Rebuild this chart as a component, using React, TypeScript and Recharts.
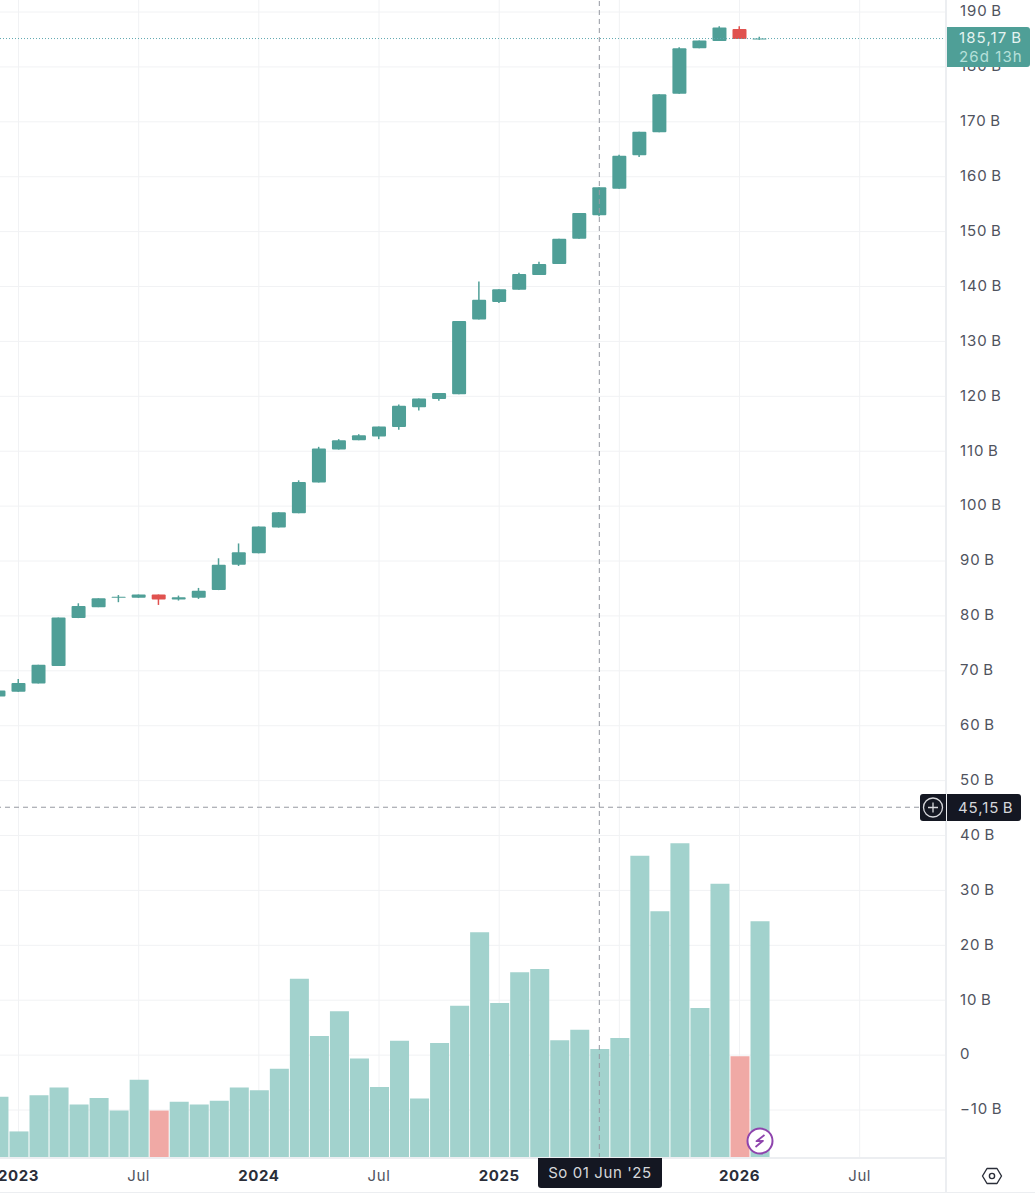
import React from "react";
import {
  ComposedChart,
  Bar,
  Cell,
  XAxis,
  YAxis,
  CartesianGrid,
  ReferenceLine,
} from "recharts";

const months = [
  "2022-12",
  "2023-01", "2023-02", "2023-03", "2023-04", "2023-05", "2023-06",
  "2023-07", "2023-08", "2023-09", "2023-10", "2023-11", "2023-12",
  "2024-01", "2024-02", "2024-03", "2024-04", "2024-05", "2024-06",
  "2024-07", "2024-08", "2024-09", "2024-10", "2024-11", "2024-12",
  "2025-01", "2025-02", "2025-03", "2025-04", "2025-05", "2025-06",
  "2025-07", "2025-08", "2025-09", "2025-10", "2025-11", "2025-12",
  "2026-01", "2026-02",
];

const opens = [
  65.3, 66.2, 67.7, 70.9, 79.6, 81.6, 83.3, 83.3, 83.9, 83.0, 83.3, 84.7, 89.3,
  91.4, 96.1, 98.7, 104.3, 110.3, 112.0, 112.7, 114.4, 118.0, 119.5, 120.4, 134.0,
  137.2, 139.4, 142.1, 144.1, 148.7, 153.0, 157.8, 163.9, 168.1, 175.1, 183.4, 184.7,
  186.9, 185.0,
];
const closes = [
  66.4, 67.8, 71.1, 79.7, 81.8, 83.2, 83.5, 83.9, 83.0, 83.4, 84.6, 89.3, 91.6,
  96.3, 98.9, 104.4, 110.5, 112.0, 112.9, 114.5, 118.3, 119.6, 120.6, 133.7, 137.6,
  139.5, 142.3, 144.1, 148.7, 153.4, 158.1, 163.8, 168.2, 175.0, 183.4, 184.8, 187.2,
  185.1, 185.17,
];
const highs = [
  66.4, 68.5, 71.1, 79.7, 82.3, 83.2, 83.8, 83.9, 83.9, 83.7, 85.1, 90.5, 93.2,
  96.3, 98.9, 104.7, 110.8, 112.2, 113.1, 114.5, 118.5, 119.6, 120.6, 133.7, 140.9,
  139.5, 142.5, 144.5, 148.7, 153.4, 158.1, 164.0, 168.2, 175.0, 183.6, 184.8, 187.4,
  187.4, 185.5,
];
const lows = [
  65.3, 66.2, 67.7, 70.9, 79.6, 81.6, 82.5, 83.3, 82.0, 82.8, 83.1, 84.7, 89.1,
  91.4, 96.1, 98.7, 104.3, 110.3, 112.0, 112.2, 113.9, 117.4, 119.2, 120.4, 134.0,
  137.0, 139.4, 142.1, 144.1, 148.7, 152.8, 157.8, 163.6, 168.1, 175.1, 183.4, 184.7,
  185.1, 184.95,
];
// bar tops in the lower pane, read on the shared price scale
const volumeTops = [
  -7.6, -13.9, -7.3, -5.9, -9.0, -7.8, -10.1, -4.5, -10.1, -8.5, -9.0, -8.3, -5.9,
  -6.4, -2.5, 13.9, 3.5, 8.0, -0.6, -5.8, 2.6, -7.9, 2.2, 9.0, 22.4,
  9.5, 15.1, 15.7, 2.7, 4.6, 1.1, 3.1, 36.3, 26.2, 38.6, 8.6, 31.2,
  -0.2, 24.4,
];

const priceTicks = [
  -10, 0, 10, 20, 30, 40, 50, 60, 70, 80, 90, 100, 110, 120, 130, 140, 150, 160, 170, 180, 190,
];
const timeTicks = [0, 6, 12, 18, 24, 30, 36, 42];
// the Jul 2025 label sits behind the crosshair date badge, so it is left blank
const timeLabels = ["2023", "Jul", "2024", "Jul", "2025", "", "2026", "Jul"];

const priceMin = -18.74;
const priceMax = 192.19;
const timeDomain: [number, number] = [-0.924, 46.31];

const lastPrice = 185.17;
const crossPrice = 45.15;
const crossMonth = 29;

const UP = "#4f9f97";
const DOWN = "#e0524f";
const UP_VOL = "#a2d2cd";
const DOWN_VOL = "#f0a9a5";
const GRID = "#f1f2f4";
const BORDER = "#eceef1";
const DARK = "#141722";
const LABEL = "#50535e";

const data = months.map((m, i) => ({
  month: m,
  t: i - 1,
  body: [Math.min(opens[i], closes[i]), Math.max(opens[i], closes[i])],
  wick: [lows[i], highs[i]],
  volume: [priceMin, volumeTops[i]],
  up: closes[i] >= opens[i],
}));

function formatPrice(v: number) {
  if (v === 0) return "0";
  return (v < 0 ? "\u2212" + -v : String(v)) + "\u2009B";
}

function TimeTick({ x, y, payload }: any) {
  const idx = timeTicks.indexOf(payload.value);
  const label = timeLabels[idx];
  if (!label) return null;
  const isYear = label !== "Jul";
  return (
    <text
      x={x}
      y={y + 15}
      textAnchor="middle"
      fontSize={15}
      fontWeight={isYear ? 700 : 400}
      letterSpacing={0.6}
      fill={isYear ? "#2a2e39" : LABEL}
    >
      {label}
    </text>
  );
}

export default function App() {
  return (
    <div
      style={{
        position: "absolute",
        left: 0,
        top: 0,
        width: 1035,
        height: 1200,
        background: "#fff",
        overflow: "hidden",
        fontFamily: "Inter, sans-serif",
      }}
    >
      <ComposedChart
        width={1035}
        height={1193}
        data={data}
        margin={{ top: 0, right: 0, bottom: 0, left: 0 }}
      >
        <CartesianGrid xAxisId="vol" stroke={GRID} strokeWidth={1} syncWithTicks />
        <XAxis
          xAxisId="vol"
          dataKey="t"
          type="number"
          domain={timeDomain}
          allowDataOverflow
          ticks={timeTicks}
          interval={0}
          height={35}
          tick={<TimeTick />}
          tickLine={false}
          axisLine={{ stroke: BORDER, strokeWidth: 2 }}
        />
        <XAxis xAxisId="wick" dataKey="t" type="number" domain={timeDomain} allowDataOverflow hide height={0} />
        <XAxis xAxisId="body" dataKey="t" type="number" domain={timeDomain} allowDataOverflow hide height={0} />
        <YAxis
          orientation="right"
          width={89}
          domain={[priceMin, priceMax]}
          allowDataOverflow
          ticks={priceTicks}
          interval={0}
          tickFormatter={formatPrice}
          tick={{ fontSize: 15, fill: LABEL, letterSpacing: 0.9, dy: -1 }}
          tickMargin={8}
          tickLine={false}
          axisLine={{ stroke: BORDER, strokeWidth: 2 }}
        />
        <Bar xAxisId="vol" dataKey="volume" barSize={19} isAnimationActive={false}>
          {data.map((d) => (
            <Cell key={d.month} fill={d.up ? UP_VOL : DOWN_VOL} />
          ))}
        </Bar>
        <Bar xAxisId="wick" dataKey="wick" barSize={1.5} isAnimationActive={false}>
          {data.map((d) => (
            <Cell key={d.month} fill={d.up ? UP : DOWN} />
          ))}
        </Bar>
        <Bar xAxisId="body" dataKey="body" barSize={14} radius={1} isAnimationActive={false}>
          {data.map((d) => (
            <Cell key={d.month} fill={d.up ? UP : DOWN} />
          ))}
        </Bar>
        <ReferenceLine xAxisId="vol" y={lastPrice} stroke="#5fa9b0" strokeDasharray="1 2" />
        <ReferenceLine xAxisId="vol" y={crossPrice} stroke="#9598a1" strokeDasharray="5 4" />
        <ReferenceLine xAxisId="vol" x={crossMonth} stroke="#9598a1" strokeDasharray="5 4" />
      </ComposedChart>

      <div style={{ position: "absolute", left: 0, top: 1192, width: 1035, height: 1, background: BORDER }} />
      <div style={{ position: "absolute", left: 945, top: 1158, width: 2, height: 35, background: BORDER }} />

      {/* last price badge */}
      <div
        style={{
          position: "absolute",
          left: 947,
          top: 27,
          width: 83,
          height: 40,
          background: UP,
          borderRadius: "0 3px 3px 0",
          fontSize: 15,
          letterSpacing: 1.1,
          lineHeight: "19px",
          paddingTop: 1,
          boxSizing: "border-box",
          textAlign: "left",
          paddingLeft: 12,
          whiteSpace: "nowrap",
        }}
      >
        <div style={{ color: "#e4f3f1" }}>185,17{"\u2009"}B</div>
        <div style={{ color: "#b5e0da" }}>26d 13h</div>
      </div>

      {/* crosshair price badge */}
      <div
        style={{
          position: "absolute",
          left: 920,
          top: 794,
          width: 26,
          height: 27,
          background: DARK,
          borderRadius: "3px 0 0 3px",
        }}
      >
        <svg width={26} height={27}>
          <circle cx={13} cy={13.5} r={9.5} fill="none" stroke="#d6d7db" strokeWidth={1.3} />
          <path d="M13 8.5v10M8 13.5h10" stroke="#d6d7db" strokeWidth={1.3} />
        </svg>
      </div>
      <div
        style={{
          position: "absolute",
          left: 947,
          top: 794,
          width: 74,
          height: 27,
          background: DARK,
          color: "#d6d7db",
          borderRadius: "0 3px 3px 0",
          fontSize: 15,
          letterSpacing: 0.9,
          lineHeight: "27px",
          paddingLeft: 11,
          boxSizing: "border-box",
          whiteSpace: "nowrap",
        }}
      >
        45,15{"\u2009"}B
      </div>

      {/* crosshair date badge */}
      <div
        style={{
          position: "absolute",
          left: 538,
          top: 1158,
          width: 124,
          height: 30,
          background: DARK,
          color: "#d6d7db",
          borderRadius: "0 0 3px 3px",
          fontSize: 15,
          letterSpacing: 0.6,
          lineHeight: "30px",
          textAlign: "center",
        }}
      >
        So 01 Jun '25
      </div>

      {/* earnings marker */}
      <svg style={{ position: "absolute", left: 745, top: 1126 }} width={30} height={30}>
        <circle cx={15} cy={15} r={12.5} fill="#fff" stroke="#8e44ad" strokeWidth={2} />
        <path d="M19.5 9 L11.5 15.2 L18 14.8 L10.5 21" fill="none" stroke="#8e44ad" strokeWidth={1.8} strokeLinejoin="round" />
      </svg>

      {/* settings icon */}
      <svg style={{ position: "absolute", left: 981, top: 1166 }} width={22} height={20}>
        <path d="M6 2.5h10l4.5 7.5-4.5 7.5H6L1.5 10z" fill="none" stroke="#2a2e39" strokeWidth={1.4} strokeLinejoin="round" />
        <circle cx={11} cy={10} r={2.6} fill="none" stroke="#2a2e39" strokeWidth={1.4} />
      </svg>
    </div>
  );
}
